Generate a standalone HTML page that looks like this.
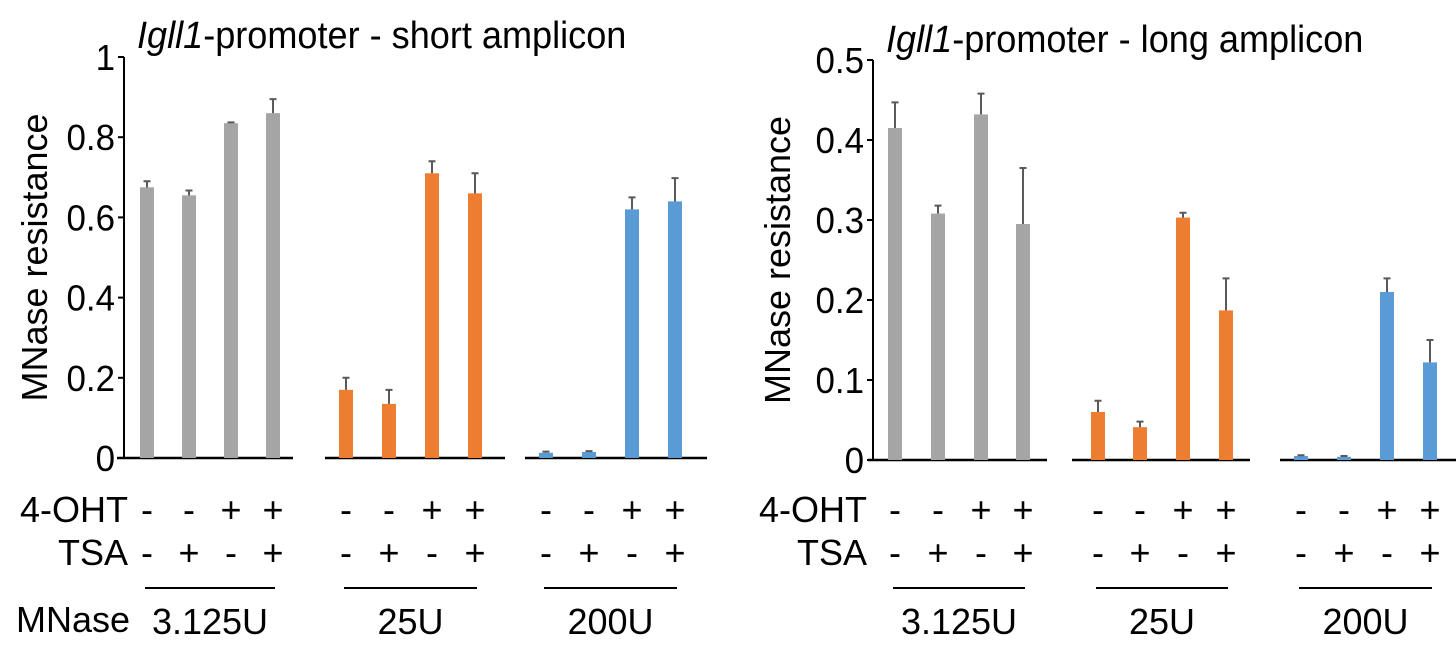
<!DOCTYPE html>
<html><head><meta charset="utf-8"><style>
html,body{margin:0;padding:0;background:#fff;}
svg{display:block;font-family:"Liberation Sans",Arial,sans-serif;}
</style></head><body>
<svg id="chart" width="1456" height="652" viewBox="0 0 1456 652" xmlns="http://www.w3.org/2000/svg"></svg>
<script>
const groups = ["3.125U","25U","200U"];
const ohtSigns = ["-","-","+","+"];
const tsaSigns = ["-","+","-","+"];
const shortValues = [[0.675,0.655,0.835,0.86],[0.17,0.135,0.71,0.66],[0.013,0.015,0.62,0.64]];
const shortErrors = [[0.015,0.012,0.002,0.035],[0.03,0.035,0.03,0.05],[0.003,0.002,0.03,0.058]];
const longValues = [[0.415,0.308,0.432,0.295],[0.06,0.041,0.303,0.187],[0.005,0.004,0.21,0.122]];
const longErrors = [[0.032,0.01,0.026,0.07],[0.014,0.007,0.006,0.04],[0.001,0.001,0.017,0.028]];
const shortTicks = ["0","0.2","0.4","0.6","0.8","1"];
const longTicks = ["0","0.1","0.2","0.3","0.4","0.5"];

const NS="http://www.w3.org/2000/svg";
const svg=document.getElementById('chart');
const colors=["#a5a5a5","#ed7d31","#5b9bd5"];
function mk(tag,attrs,parent){const e=document.createElementNS(NS,tag);for(const k in attrs)e.setAttribute(k,attrs[k]);(parent||svg).appendChild(e);return e;}
function txt(x,y,s,size,anchor,parent,sx){const t=mk('text',{transform:`translate(${x},${y}) scale(${sx||1},1)`,'font-size':size,'text-anchor':anchor||'start',fill:'#000'},parent);t.textContent=s;return t;}

const panels=[
 {name:'short',title:'-promoter - short amplicon',titleX:137,titleY:48,axisX:124,y0:458,yTop:57,max:1,ticks:shortTicks,values:shortValues,errors:shortErrors,
  gx:[[147,189,231,273],[346,389,432,475],[546,589,632,675]],seg:[[117,293],[325,505],[525,707]],ylabX:47,labX:128,mnase:true},
 {name:'long',title:'-promoter - long amplicon',titleX:886,titleY:52,axisX:873,y0:460,yTop:60,max:0.5,ticks:longTicks,values:longValues,errors:longErrors,
  gx:[[895,938,981,1023],[1098,1140,1183,1226],[1301,1344,1387,1430]],seg:[[868,1047],[1072,1250],[1280,1456]],ylabX:790,labX:867,mnase:false}
];

panels.forEach(p=>{
 const g=mk('g',{});
 
 
 const yS=v=>p.y0-(v/p.max)*(p.y0-p.yTop);
 const t=mk('text',{transform:`translate(${p.titleX},${p.titleY}) scale(0.95,1)`,'font-size':38,fill:'#000'},g);
 
 
 const ti=mk('tspan',{'font-style':'italic'},t);ti.textContent='Igll1';
 const tr=mk('tspan',{},t);tr.textContent=p.title;
 const ax=mk('line',{x1:p.axisX,y1:p.yTop,x2:p.axisX,y2:p.y0,stroke:'#000','stroke-width':2},g);
 
 
 p.ticks.forEach(tk=>{
  const y=yS(parseFloat(tk));
  mk('line',{x1:p.axisX-6,y1:y,x2:p.axisX,y2:y,stroke:'#000','stroke-width':2},g);
  const tl=txt(p.axisX-9,y+13,tk,36,'end',g,0.97);
  
  
 });
 const yl=mk('text',{transform:`translate(${p.ylabX},${(p.y0+p.yTop)/2}) rotate(-90)`,'font-size':36,'text-anchor':'middle',fill:'#000'},g);
 yl.textContent='MNase resistance';
 
 
 groups.forEach((gn,gi)=>{
  const bl=mk('line',{x1:p.seg[gi][0],y1:p.y0,x2:p.seg[gi][1],y2:p.y0,stroke:'#000','stroke-width':2.5},g);
  
  
  p.values[gi].forEach((v,bi)=>{
   const cx=p.gx[gi][bi];
   const top=yS(v);
   const eTop=yS(v+p.errors[gi][bi]);
   const r=mk('rect',{x:cx-7,y:top,width:14,height:p.y0-top,fill:colors[gi]},g);
   
   
   const e=mk('path',{d:`M${cx},${top}V${eTop}M${cx-3.5},${eTop}H${cx+3.5}`,stroke:'#595959','stroke-width':2,fill:'none'},g);
   
   
   const s1=txt(cx,522,ohtSigns[bi],36,'middle',g);
   
   
   const s2=txt(cx,565,tsaSigns[bi],36,'middle',g);
   
   
  });
  const x1=p.gx[gi][0],x2=p.gx[gi][3];
  const ul=mk('line',{x1:x1-2,y1:588,x2:x2+2,y2:588,stroke:'#000','stroke-width':2},g);
  
  
  const gl=txt((x1+x2)/2,634,gn,36,'middle',g);
  
  
 });
 const l1=txt(p.labX,522,'4-OHT',36,'end',g);
 
 
 const l2=txt(p.labX,565,'TSA',36,'end',g);
 
 
 if(p.mnase){
  const l3=txt(16,632,'MNase',36,'start',g);
  
  
 }
});
</script>
</body></html>
